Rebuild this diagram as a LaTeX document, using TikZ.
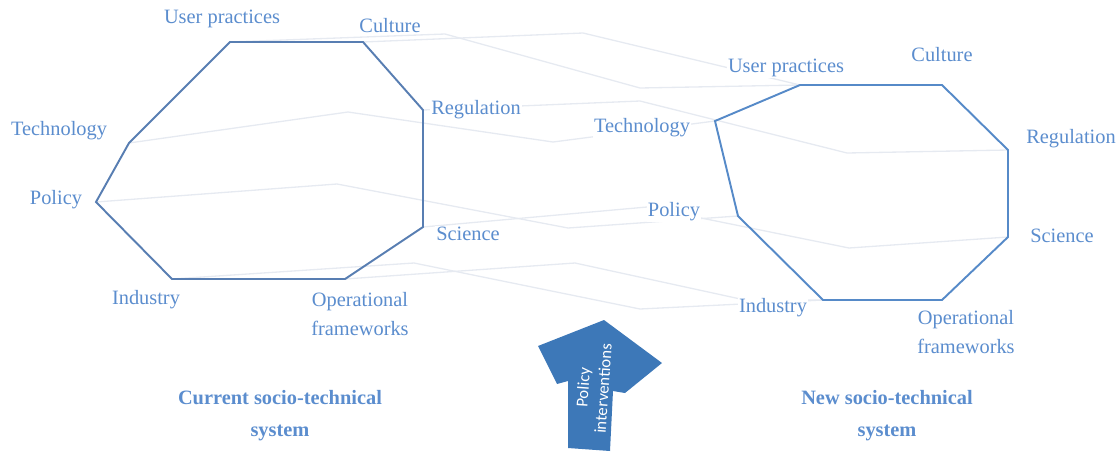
\documentclass[tikz,border=0pt]{standalone}
\usepackage{fontspec}
\setmainfont{Liberation Serif}
\newfontfamily\calibri{Carlito}
\usepackage{tikz}
\usetikzlibrary{calc}
\definecolor{lbl}{RGB}{91,141,206}
\definecolor{octcur}{RGB}{88,126,178}
\definecolor{octnew}{RGB}{86,138,200}
\definecolor{shiftln}{RGB}{230,234,241}
\definecolor{pushfill}{RGB}{61,120,184}
\tikzset{x=0.02cm, y=-0.02cm, font=\fontsize{11.6}{17}\selectfont,
  lab/.style={text=lbl, fill=white, inner sep=0.5pt, align=center},
  systitle/.style={text=lbl, align=center, font=\fontsize{11.6}{18.2}\selectfont\bfseries},
  octa/.style={draw=#1, line width=1.1pt, line join=miter},
  shiftline/.style={draw=shiftln, line width=0.75pt}}

\begin{document}
\begin{tikzpicture}
\useasboundingbox (0,0) rectangle (1120,454);
%\draw[help lines,step=50] (0,0) grid (1120,454);

% corners of the current system
\coordinate (cur_up) at (230,42);
\coordinate (cur_cult) at (363,42);
\coordinate (cur_reg) at (423,110);
\coordinate (cur_sci) at (423,227);
\coordinate (cur_op) at (345,279);
\coordinate (cur_ind) at (172,279);
\coordinate (cur_pol) at (96,202);
\coordinate (cur_tech) at (129,143);
% corners of the new system
\coordinate (new_up) at (800,85);
\coordinate (new_cult) at (942,85);
\coordinate (new_reg) at (1008,150);
\coordinate (new_sci) at (1008,237);
\coordinate (new_op) at (942,300);
\coordinate (new_ind) at (823,300);
\coordinate (new_pol) at (738,216);
\coordinate (new_tech) at (715,121);

% faint links from old to new
\draw[shiftline] (cur_up) -- (445,34) -- (640,88) -- (new_up);
\draw[shiftline] (cur_cult) -- (583,33) -- (new_up);
\draw[shiftline] (cur_tech) -- (348,112) -- (553,142) -- (new_tech);
\draw[shiftline] (cur_reg) -- (640,101) -- (847,153) -- (new_reg);
\draw[shiftline] (cur_pol) -- (337,184) -- (568,228) -- (new_pol);
\draw[shiftline] (cur_sci) -- (647,207) -- (849,248) -- (new_sci);
\draw[shiftline] (cur_ind) -- (414,263) -- (640,309) -- (new_ind);
\draw[shiftline] (cur_op) -- (575,263) -- (745,300) -- (new_ind);

\draw[octa=octcur] (cur_up) -- (cur_cult) -- (cur_reg) -- (cur_sci) -- (cur_op) -- (cur_ind) -- (cur_pol) -- (cur_tech) -- cycle;
\draw[octa=octnew] (new_up) -- (new_cult) -- (new_reg) -- (new_sci) -- (new_op) -- (new_ind) -- (new_pol) -- (new_tech) -- cycle;

\path (222,19) node(l_up) [lab] {User practices}
(390,26) node(l_cult) [lab] {Culture}
(476,110) node(l_reg) [lab] {Regulation}
(59,131) node(l_tech) [lab] {Technology}
(56,200) node(l_pol) [lab] {Policy}
(468,234) node(l_sci) [lab] {Science}
(146,300) node(l_ind) [lab] {Industry}
(360,314) node(l_op) [lab] {Operational\\frameworks};

\path (786,68) node(r_up) [lab] {User practices}
(942,55) node(r_cult) [lab] {Culture}
(1071,139) node(r_reg) [lab] {Regulation}
(642,128) node(r_tech) [lab] {Technology}
(674,212) node(r_pol) [lab] {Policy}
(1062,236) node(r_sci) [lab] {Science}
(773,308) node(r_ind) [lab] {Industry}
(966,332) node(r_op) [lab] {Operational\\frameworks};

\path (280,416) node(cur_title) [systitle] {Current socio-technical\\system}
(887,416) node(new_title) [systitle] {New socio-technical\\system};

% the push arrow
\fill[pushfill] (604,320) -- (538,346) -- (557,384) -- (568,381) -- (568,448) -- (610,451) -- (613,391) -- (625,393) -- (662,363) -- cycle;
\node(push) [text=white, align=center, rotate=86, inner sep=0pt,
  font=\calibri\fontsize{9.5}{11.4}\selectfont] at (593,388) {Policy\\interventions};
\end{tikzpicture}
\end{document}
